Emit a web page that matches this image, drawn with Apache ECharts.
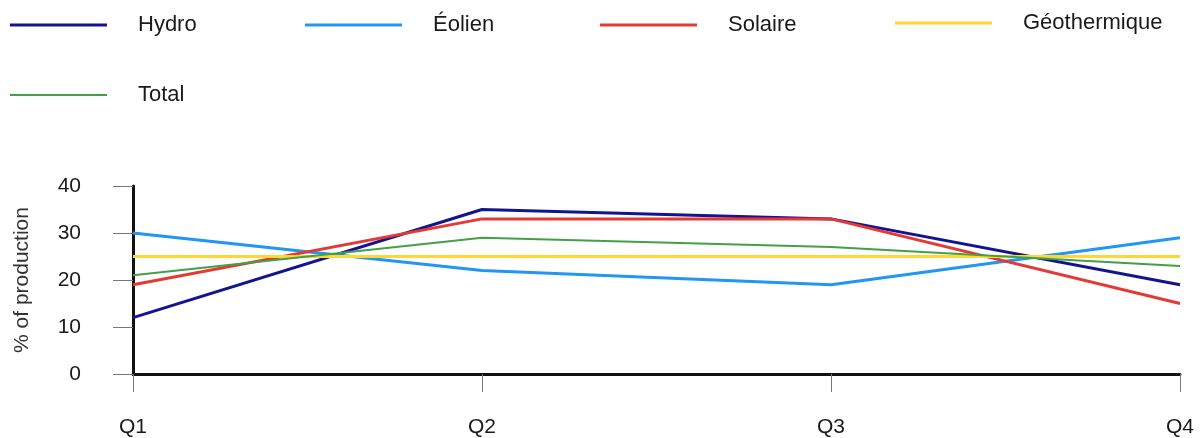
<!DOCTYPE html>
<html>
<head>
<meta charset="utf-8">
<script src="https://cdn.jsdelivr.net/npm/echarts@6/dist/echarts.min.js"></script>
<style>html,body{margin:0;padding:0;background:#fff}#c{width:1203px;height:438px}</style>
</head>
<body>
<div id="c"></div>
<script>
var categories = ['Q1', 'Q2', 'Q3', 'Q4'];
var seriesNames = ['Hydro', 'Éolien', 'Solaire', 'Géothermique', 'Total'];
var hydro = [12, 35, 33, 19];
var eolien = [30, 22, 19, 29];
var solaire = [19, 33, 33, 15];
var geothermique = [25, 25, 25, 25];
var total = [21, 29, 27, 23];
var yTicks = [0, 10, 20, 30, 40];

var colors = ['#14148F', '#2196F3', '#E53935', '#FDD835', '#43A047'];
var widths = [3, 3, 3, 3, 2];
var values = [hydro, eolien, solaire, geothermique, total];
var font = 'Liberation Sans, Arial, sans-serif';

var legendPos = [[10, 14], [305, 14], [600, 14], [895, 12], [10, 84]];
var legends = seriesNames.map(function (n, i) {
  return {
    data: [n],
    left: legendPos[i][0],
    top: legendPos[i][1],
    padding: 0,
    icon: 'rect',
    itemWidth: 97,
    itemHeight: widths[i],
    selectedMode: false,
    textStyle: { fontFamily: font, fontSize: 22, color: '#1a1a1a', padding: [0, 0, 0, 26] }
  };
});

var chart = echarts.init(document.getElementById('c'));
chart.setOption({
  animation: false,
  legend: legends,
  grid: { left: 133, right: 23, top: 186, bottom: 61 },
  xAxis: {
    type: 'category',
    data: categories,
    boundaryGap: false,
    axisLine: { lineStyle: { color: '#111', width: 3 } },
    axisTick: { length: 18, lineStyle: { color: '#777', width: 1 } },
    axisLabel: { fontFamily: font, fontSize: 21, color: '#1a1a1a', margin: 43 }
  },
  yAxis: {
    type: 'value',
    min: yTicks[0],
    max: yTicks[yTicks.length - 1],
    interval: 10,
    name: '% of production',
    nameLocation: 'middle',
    nameGap: 100,
    nameTextStyle: { fontFamily: font, fontSize: 21, color: '#333' },
    splitLine: { show: false },
    axisLine: { show: true, lineStyle: { color: '#111', width: 3 } },
    axisTick: { show: true, length: 20, lineStyle: { color: '#777', width: 1 } },
    axisLabel: { fontFamily: font, fontSize: 21, color: '#1a1a1a', margin: 52 }
  },
  series: seriesNames.map(function (n, i) {
    return {
      name: n,
      type: 'line',
      data: values[i],
      symbol: 'none',
      color: colors[i],
      lineStyle: { color: colors[i], width: widths[i] }
    };
  })
});
</script>
</body>
</html>
